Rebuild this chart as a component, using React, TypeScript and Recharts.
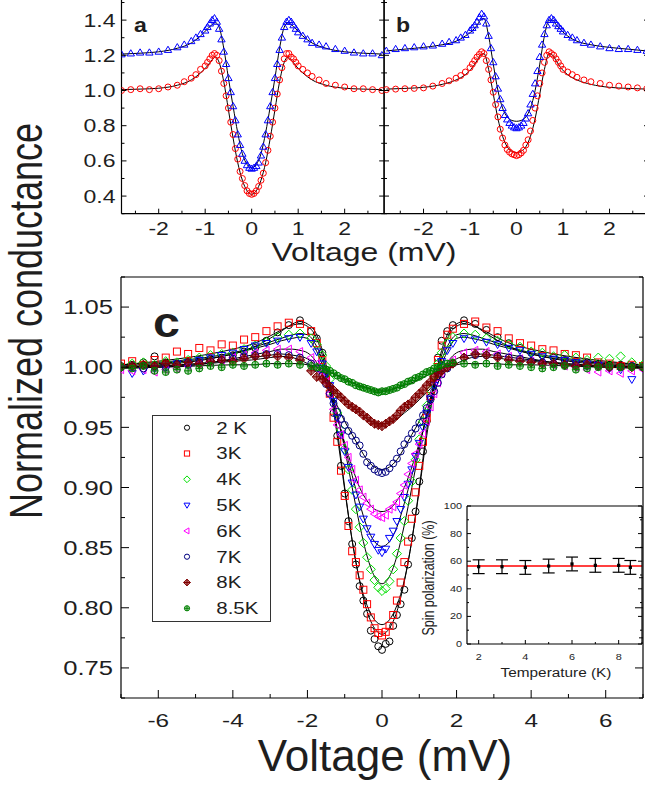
import React from "react";
import {
  ComposedChart,
  Scatter,
  Line,
  XAxis,
  YAxis,
  ErrorBar,
  ReferenceLine,
  Legend,
} from "recharts";

const FONT = "'Liberation Sans', Arial, Helvetica, sans-serif";
const SX = 1.28; // the figure is stretched sideways, so is its text
const INK = "#1e1e1e";

// ─── Panels a and b: dI/dV at two contacts ─────────────────

const abVolts = [
  -2.8, -2.6, -2.4, -2.2, -2.0, -1.8, -1.6, -1.45, -1.3, -1.2, -1.1, -1.0,
  -0.95, -0.9, -0.85, -0.8, -0.75, -0.7, -0.65, -0.6, -0.55, -0.5, -0.45, -0.4,
  -0.35, -0.3, -0.25, -0.2, -0.15, -0.1, -0.05, 0, 0.05, 0.1, 0.15, 0.2, 0.25,
  0.3, 0.35, 0.4, 0.45, 0.5, 0.55, 0.6, 0.65, 0.7, 0.75, 0.8, 0.85, 0.9, 0.95,
  1.0, 1.1, 1.2, 1.3, 1.45, 1.6, 1.8, 2.0, 2.2, 2.4, 2.6, 2.8,
];

const aRed = [
  1.0, 1.005, 1.01, 1.005, 1.01, 1.02, 1.03, 1.05, 1.07, 1.09, 1.12, 1.14,
  1.16, 1.18, 1.2, 1.21, 1.2, 1.17, 1.11, 1.04, 0.97, 0.9, 0.82, 0.75, 0.67,
  0.61, 0.54, 0.5, 0.46, 0.43, 0.415, 0.41, 0.415, 0.43, 0.455, 0.49, 0.53,
  0.59, 0.66, 0.74, 0.82, 0.9, 0.98, 1.06, 1.13, 1.18, 1.21, 1.21, 1.19, 1.18,
  1.16, 1.14, 1.12, 1.1, 1.08, 1.06, 1.04, 1.03, 1.02, 1.01, 1.01, 1.005, 1.0,
];
const aBlue = [
  1.205, 1.21, 1.215, 1.215, 1.22, 1.23, 1.245, 1.26, 1.28, 1.3, 1.32, 1.34,
  1.36, 1.38, 1.4, 1.41, 1.39, 1.35, 1.29, 1.22, 1.15, 1.07, 0.99, 0.91, 0.83,
  0.75, 0.69, 0.64, 0.6, 0.575, 0.56, 0.555, 0.56, 0.57, 0.59, 0.63, 0.68,
  0.75, 0.83, 0.91, 0.99, 1.07, 1.15, 1.23, 1.3, 1.36, 1.39, 1.4, 1.39, 1.37,
  1.35, 1.33, 1.31, 1.29, 1.27, 1.26, 1.25, 1.235, 1.225, 1.215, 1.21, 1.21, 1.2,
];
const bRed = [
  1.005, 1.008, 1.01, 1.012, 1.015, 1.025, 1.04, 1.055, 1.07, 1.085, 1.105,
  1.13, 1.15, 1.17, 1.19, 1.205, 1.22, 1.21, 1.17, 1.12, 1.06, 0.99, 0.92,
  0.85, 0.78, 0.73, 0.69, 0.665, 0.65, 0.64, 0.635, 0.63, 0.635, 0.645, 0.66,
  0.69, 0.72, 0.77, 0.83, 0.9, 0.97, 1.04, 1.1, 1.16, 1.2, 1.22, 1.21, 1.2,
  1.18, 1.16, 1.14, 1.12, 1.105, 1.09, 1.075, 1.06, 1.05, 1.04, 1.03, 1.025,
  1.02, 1.015, 1.01,
];
const bBlue = [
  1.225, 1.235, 1.24, 1.245, 1.25, 1.255, 1.265, 1.275, 1.285, 1.3, 1.315,
  1.34, 1.355, 1.37, 1.39, 1.415, 1.435, 1.42, 1.38, 1.31, 1.24, 1.16, 1.08,
  1.01, 0.95, 0.9, 0.86, 0.835, 0.815, 0.8, 0.79, 0.785, 0.79, 0.8, 0.815,
  0.84, 0.87, 0.92, 0.98, 1.04, 1.11, 1.19, 1.26, 1.32, 1.37, 1.4, 1.41, 1.4,
  1.38, 1.365, 1.35, 1.335, 1.315, 1.3, 1.285, 1.27, 1.26, 1.25, 1.24, 1.235,
  1.235, 1.23, 1.225,
];

const abFitVolts = [
  -2.8, -2.4, -2.0, -1.6, -1.3, -1.1, -0.95, -0.85, -0.78, -0.7, -0.6, -0.5,
  -0.4, -0.3, -0.2, -0.1, 0, 0.1, 0.2, 0.3, 0.4, 0.5, 0.6, 0.7, 0.78, 0.85,
  0.95, 1.1, 1.3, 1.6, 2.0, 2.4, 2.8,
];
const aRedFit = [
  1.005, 1.008, 1.013, 1.03, 1.06, 1.1, 1.14, 1.175, 1.19, 1.16, 1.05, 0.89,
  0.73, 0.59, 0.49, 0.43, 0.41, 0.43, 0.49, 0.59, 0.73, 0.89, 1.05, 1.16, 1.19,
  1.175, 1.14, 1.1, 1.06, 1.03, 1.013, 1.008, 1.005,
];
const aBlueFit = [
  1.207, 1.212, 1.22, 1.24, 1.27, 1.31, 1.35, 1.375, 1.385, 1.36, 1.24, 1.07,
  0.91, 0.76, 0.64, 0.58, 0.56, 0.58, 0.64, 0.76, 0.91, 1.07, 1.24, 1.36, 1.385,
  1.375, 1.35, 1.31, 1.27, 1.24, 1.22, 1.212, 1.207,
];
const bRedFit = [
  1.008, 1.012, 1.018, 1.035, 1.06, 1.09, 1.13, 1.17, 1.2, 1.21, 1.12, 0.98,
  0.84, 0.74, 0.68, 0.655, 0.647, 0.655, 0.68, 0.74, 0.84, 0.98, 1.12, 1.21,
  1.2, 1.17, 1.13, 1.09, 1.06, 1.035, 1.018, 1.012, 1.008,
];
const bBlueFit = [
  1.225, 1.235, 1.245, 1.26, 1.28, 1.31, 1.34, 1.37, 1.4, 1.41, 1.31, 1.15, 1.0,
  0.9, 0.85, 0.83, 0.825, 0.83, 0.85, 0.9, 1.0, 1.15, 1.31, 1.4, 1.4, 1.375,
  1.345, 1.31, 1.28, 1.26, 1.245, 1.235, 1.225,
];

// ─── Panel c: temperature series ───────────────────────────

const cVolts = [
  -7, -6.7, -6.4, -6.1, -5.8, -5.5, -5.2, -4.9, -4.6, -4.3, -4.0, -3.7, -3.4,
  -3.1, -2.8, -2.5, -2.2, -1.9, -1.75, -1.6, -1.5, -1.4, -1.3, -1.2, -1.1,
  -1.0, -0.9, -0.8, -0.7, -0.6, -0.5, -0.4, -0.3, -0.2, -0.1, 0, 0.1, 0.2, 0.3,
  0.4, 0.5, 0.6, 0.7, 0.8, 0.9, 1.0, 1.1, 1.2, 1.3, 1.4, 1.5, 1.6, 1.75, 1.9,
  2.2, 2.5, 2.8, 3.1, 3.4, 3.7, 4.0, 4.3, 4.6, 4.9, 5.2, 5.5, 5.8, 6.1, 6.4,
  6.7, 7.0,
];
const g2K = [
  1.001, 1.002, 1.004, 1.009, 1.004, 1.003, 1.005, 1.006, 1.007, 1.008, 1.01,
  1.013, 1.016, 1.022, 1.029, 1.035, 1.039, 1.03,
  1.024, 1.012, 0.998, 0.984, 0.962, 0.943, 0.918, 0.895, 0.872, 0.853, 0.836,
  0.818, 0.806, 0.795, 0.781, 0.774, 0.768, 0.765, 0.77, 0.772, 0.785, 0.794,
  0.803, 0.815, 0.836, 0.858, 0.88, 0.905, 0.93, 0.955, 0.975, 0.992, 1.008,
  1.022, 1.03,
  1.035, 1.039, 1.036, 1.031, 1.025, 1.02, 1.016, 1.012, 1.01, 1.008, 1.006,
  1.005, 1.004, 1.003, 1.002, 1.002, 1.001, 1.001,
];
const g3K = [
  1.003, 1.005, 1.002, 1.006, 1.008, 1.013, 1.011, 1.016, 1.014, 1.019, 1.018,
  1.023, 1.025, 1.03, 1.034, 1.037, 1.036, 1.03,
  1.02, 1.006, 0.993, 0.978, 0.958, 0.938, 0.914, 0.893, 0.868, 0.847, 0.838,
  0.827, 0.815, 0.803, 0.792, 0.783, 0.779, 0.777, 0.78, 0.785, 0.794, 0.806,
  0.821, 0.838, 0.855, 0.874, 0.896, 0.918, 0.938, 0.958, 0.976, 0.992, 1.006,
  1.018, 1.027,
  1.032, 1.036, 1.038, 1.033, 1.03, 1.024, 1.02, 1.018, 1.015, 1.014, 1.011,
  1.01, 1.008, 1.004, 1.003, 1.001, 1.002, 1.001,
];
const g4K = [
  1.0, 1.003, 1.004, 1.002, 1.005, 1.004, 1.006, 1.008, 1.01, 1.011, 1.012,
  1.015, 1.018, 1.021, 1.025, 1.027, 1.028, 1.024,
  1.019, 1.01, 1.001, 0.99, 0.977, 0.962, 0.948, 0.932, 0.915, 0.898, 0.882,
  0.867, 0.854, 0.842, 0.832, 0.823, 0.817, 0.814, 0.816, 0.822, 0.832, 0.845,
  0.858, 0.872, 0.889, 0.905, 0.923, 0.94, 0.955, 0.968, 0.981, 0.993, 1.003,
  1.012, 1.02,
  1.025, 1.028, 1.027, 1.024, 1.022, 1.019, 1.017, 1.013, 1.012, 1.009, 1.01,
  1.008, 1.006, 1.008, 1.007, 1.009, 1.004, 1.002,
];
const g5K = [
  0.999, 0.995, 0.997, 0.999, 1.001, 1.003, 1.004, 1.006, 1.008, 1.01, 1.012,
  1.015, 1.018, 1.02, 1.022, 1.024, 1.025, 1.02,
  1.013, 1.003, 0.995, 0.985, 0.972, 0.958, 0.944, 0.93, 0.917, 0.904, 0.894,
  0.884, 0.874, 0.866, 0.859, 0.853, 0.848, 0.846, 0.849, 0.858, 0.864, 0.872,
  0.882, 0.892, 0.903, 0.915, 0.926, 0.937, 0.95, 0.962, 0.974, 0.985, 0.996,
  1.005, 1.014,
  1.02, 1.024, 1.023, 1.021, 1.019, 1.016, 1.014, 1.011, 1.009, 1.007, 1.006,
  1.004, 1.003, 1.002, 0.999, 0.998, 0.99, 0.999,
];
const g6K = [
  0.998, 0.997, 0.998, 0.996, 0.998, 0.999, 1.001, 1.003, 1.004, 1.006, 1.008,
  1.01, 1.012, 1.014, 1.015, 1.015, 1.013, 1.008,
  1.003, 0.996, 0.988, 0.978, 0.965, 0.952, 0.944, 0.935, 0.925, 0.915, 0.906,
  0.898, 0.892, 0.887, 0.882, 0.878, 0.876, 0.875, 0.877, 0.882, 0.884, 0.888,
  0.895, 0.902, 0.911, 0.92, 0.928, 0.936, 0.945, 0.955, 0.967, 0.978, 0.987,
  0.995, 1.001,
  1.006, 1.012, 1.014, 1.013, 1.011, 1.009, 1.007, 1.005, 1.003, 1.002, 1.001,
  1.0, 0.998, 0.996, 0.997, 0.995, 0.997, 0.998,
];
const g7K = [
  1.0, 1.001, 0.999, 1.001, 1.0, 1.002, 1.002, 1.004, 1.005, 1.006, 1.007,
  1.009, 1.01, 1.011, 1.011, 1.01, 1.008, 1.003,
  0.999, 0.993, 0.986, 0.978, 0.97, 0.963, 0.957, 0.952, 0.947, 0.943, 0.939,
  0.935, 0.928, 0.921, 0.918, 0.915, 0.913, 0.912, 0.913, 0.916, 0.92, 0.924,
  0.93, 0.936, 0.94, 0.945, 0.949, 0.954, 0.96, 0.966, 0.973, 0.98, 0.987,
  0.994, 0.999,
  1.003, 1.008, 1.01, 1.01, 1.009, 1.008, 1.007, 1.005, 1.004, 1.003, 1.002,
  1.002, 1.001, 1.001, 1.0, 1.0, 1.001, 1.0,
];
const g8K = [
  1.0, 1.001, 1.002, 1.001, 1.003, 1.002, 1.004, 1.003, 1.005, 1.006, 1.005,
  1.007, 1.009, 1.01, 1.009, 1.008, 1.006, 0.997,
  0.992, 0.99, 0.987, 0.984, 0.981, 0.978, 0.975, 0.972, 0.969, 0.967, 0.965,
  0.963, 0.96, 0.958, 0.955, 0.953, 0.952, 0.951, 0.953, 0.955, 0.957, 0.96,
  0.964, 0.967, 0.969, 0.971, 0.975, 0.978, 0.981, 0.985, 0.988, 0.992, 0.995,
  0.997, 1.0,
  1.003, 1.008, 1.011, 1.01, 1.008, 1.006, 1.005, 1.004, 1.003, 1.003, 1.002,
  1.001, 1.002, 1.001, 1.0, 1.001, 1.0, 1.0,
];
const g85K = [
  1.0, 0.999, 1.001, 0.997, 0.996, 0.998, 0.997, 0.999, 1.001, 1.0, 1.002,
  1.001, 1.002, 1.003, 1.002, 1.003, 1.002, 1.001,
  1.0, 0.999, 0.998, 0.997, 0.995, 0.993, 0.991, 0.99, 0.988, 0.987, 0.985,
  0.984, 0.983, 0.982, 0.981, 0.98, 0.979, 0.98, 0.98, 0.981, 0.982, 0.983,
  0.985, 0.986, 0.988, 0.989, 0.991, 0.992, 0.994, 0.996, 0.997, 0.999, 1.0,
  1.002, 1.003,
  1.004, 1.003, 1.002, 1.003, 1.001, 1.002, 1.001, 1.0, 0.999, 1.0, 1.001,
  0.998, 0.999, 1.0, 1.001, 1.0, 1.0, 1.0,
];

const cFitVolts = [
  -7, -6, -5, -4, -3.5, -3, -2.7, -2.4, -2.2, -2.0, -1.8, -1.6, -1.4, -1.2,
  -1.0, -0.8, -0.6, -0.4, -0.2, 0, 0.2, 0.4, 0.6, 0.8, 1.0, 1.2, 1.4, 1.6, 1.8,
  2.0, 2.2, 2.4, 2.7, 3, 3.5, 4, 5, 6, 7,
];
const fit2K = [
  1.001, 1.003, 1.006, 1.011, 1.016, 1.024, 1.03, 1.036, 1.038, 1.036, 1.03,
  1.014, 0.987, 0.948, 0.9, 0.856, 0.822, 0.797, 0.783, 0.778, 0.783, 0.797,
  0.822, 0.856, 0.9, 0.948, 0.987, 1.014, 1.03, 1.036, 1.038, 1.036, 1.03,
  1.024, 1.016, 1.011, 1.006, 1.003, 1.001,
];
const fit3K = [
  1.002, 1.005, 1.009, 1.015, 1.019, 1.026, 1.031, 1.035, 1.036, 1.034, 1.027,
  1.01, 0.982, 0.943, 0.898, 0.856, 0.823, 0.802, 0.79, 0.786, 0.79, 0.802,
  0.823, 0.856, 0.898, 0.943, 0.982, 1.01, 1.027, 1.034, 1.036, 1.035, 1.031,
  1.026, 1.019, 1.015, 1.009, 1.005, 1.002,
];
const fit4K = [
  1.002, 1.004, 1.007, 1.012, 1.016, 1.021, 1.024, 1.027, 1.028, 1.027, 1.02,
  1.006, 0.986, 0.961, 0.932, 0.9, 0.869, 0.843, 0.826, 0.82, 0.826, 0.843,
  0.869, 0.9, 0.932, 0.961, 0.986, 1.006, 1.02, 1.027, 1.028, 1.027, 1.024,
  1.021, 1.016, 1.012, 1.007, 1.004, 1.002,
];
const fit5K = [
  1.0, 1.002, 1.005, 1.011, 1.015, 1.019, 1.022, 1.024, 1.025, 1.024, 1.016,
  1.002, 0.983, 0.96, 0.935, 0.91, 0.887, 0.867, 0.855, 0.851, 0.855, 0.867,
  0.887, 0.91, 0.935, 0.96, 0.983, 1.002, 1.016, 1.024, 1.025, 1.024, 1.022,
  1.019, 1.015, 1.011, 1.005, 1.002, 1.0,
];
const fit6K = [
  0.999, 1.0, 1.002, 1.007, 1.01, 1.013, 1.015, 1.015, 1.014, 1.012, 1.006,
  0.995, 0.978, 0.958, 0.937, 0.917, 0.9, 0.889, 0.882, 0.88, 0.882, 0.889,
  0.9, 0.917, 0.937, 0.958, 0.978, 0.995, 1.006, 1.012, 1.014, 1.015, 1.015,
  1.013, 1.01, 1.007, 1.002, 1.0, 0.999,
];
const fit7K = [
  1.0, 1.001, 1.003, 1.006, 1.008, 1.01, 1.011, 1.01, 1.009, 1.007, 1.002,
  0.993, 0.981, 0.968, 0.955, 0.944, 0.933, 0.923, 0.917, 0.915, 0.917, 0.923,
  0.933, 0.944, 0.955, 0.968, 0.981, 0.993, 1.002, 1.007, 1.009, 1.01, 1.011,
  1.01, 1.008, 1.006, 1.003, 1.001, 1.0,
];
const fit8K = [
  1.0, 1.001, 1.002, 1.005, 1.006, 1.008, 1.009, 1.008, 1.006, 1.003, 0.999,
  0.993, 0.986, 0.979, 0.973, 0.967, 0.962, 0.957, 0.954, 0.953, 0.954, 0.957,
  0.962, 0.967, 0.973, 0.979, 0.986, 0.993, 0.999, 1.003, 1.006, 1.008, 1.009,
  1.008, 1.006, 1.005, 1.002, 1.001, 1.0,
];
const fit85K = [
  1.0, 1.0, 1.001, 1.002, 1.002, 1.003, 1.003, 1.003, 1.003, 1.002, 1.001,
  0.999, 0.996, 0.993, 0.99, 0.987, 0.985, 0.983, 0.981, 0.981, 0.981, 0.983,
  0.985, 0.987, 0.99, 0.993, 0.996, 0.999, 1.001, 1.002, 1.003, 1.003, 1.003,
  1.003, 1.002, 1.002, 1.001, 1.0, 1.0,
];

const tempLabels = ["2 K", "3K", "4K", "5K", "6K", "7K", "8K", "8.5K"];
const tempColors = [
  "#000000", "#ff0000", "#00e000", "#0000ff", "#ff00ff", "#000080", "#800000", "#008000",
];
const tempMarkers = [
  "circle", "square", "diamond", "triDown", "triLeft", "circle", "crossDiamond", "crossCircle",
];
const tempData = [g2K, g3K, g4K, g5K, g6K, g7K, g8K, g85K];
const tempFits = [fit2K, fit3K, fit4K, fit5K, fit6K, fit7K, fit8K, fit85K];

// ─── Inset: spin polarization vs temperature ──────────────

const insetTemps = [2, 3, 4, 5, 6, 7, 8, 8.5];
const insetPol = [56, 56, 55.5, 56.5, 58, 57, 57, 55.5];
const insetErr = [5, 5, 5, 5, 5, 5, 5, 5];
const insetPolFit = 56.5;

// ─── Tick lists ────────────────────────────────────────────

const abXTicks = [-2.5, -2, -1.5, -1, -0.5, 0, 0.5, 1, 1.5, 2, 2.5];
const abYTicks = [0.3, 0.4, 0.5, 0.6, 0.7, 0.8, 0.9, 1.0, 1.1, 1.2, 1.3, 1.4, 1.5];
const cXTicks = [-7, -6, -5, -4, -3, -2, -1, 0, 1, 2, 3, 4, 5, 6, 7];
const cYTicks = [
  0.725, 0.75, 0.775, 0.8, 0.825, 0.85, 0.875, 0.9, 0.925, 0.95, 0.975, 1.0,
  1.025, 1.05, 1.075,
];
const insetXTicks = [2, 3, 4, 5, 6, 7, 8, 9];
const insetYTicks = [0, 10, 20, 30, 40, 50, 60, 70, 80, 90, 100];

const toPts = (xs: number[], ys: number[]) => xs.map((x, i) => ({ x, y: ys[i] }));

// ─── Markers ───────────────────────────────────────────────

function Marker({ kind, cx, cy, s, color }: { kind: string; cx: number; cy: number; s: number; color: string }) {
  const sw = 1;
  switch (kind) {
    case "square":
      return <rect x={cx - s} y={cy - s} width={2 * s} height={2 * s} fill="none" stroke={color} strokeWidth={sw} />;
    case "diamond": {
      const d = s * 1.3;
      return (
        <polygon
          points={`${cx},${cy - d} ${cx + d},${cy} ${cx},${cy + d} ${cx - d},${cy}`}
          fill="none"
          stroke={color}
          strokeWidth={sw}
        />
      );
    }
    case "triUp":
      return (
        <polygon
          points={`${cx - s * 1.15},${cy + s * 0.75} ${cx + s * 1.15},${cy + s * 0.75} ${cx},${cy - s * 1.2}`}
          fill="none"
          stroke={color}
          strokeWidth={sw}
        />
      );
    case "triDown":
      return (
        <polygon
          points={`${cx - s * 1.15},${cy - s * 0.75} ${cx + s * 1.15},${cy - s * 0.75} ${cx},${cy + s * 1.2}`}
          fill="none"
          stroke={color}
          strokeWidth={sw}
        />
      );
    case "triLeft":
      return (
        <polygon
          points={`${cx - s * 1.2},${cy} ${cx + s * 0.75},${cy - s * 1.15} ${cx + s * 0.75},${cy + s * 1.15}`}
          fill="none"
          stroke={color}
          strokeWidth={sw}
        />
      );
    case "crossDiamond": {
      const d = s * 1.3;
      return (
        <g stroke={color} strokeWidth={sw}>
          <polygon
            points={`${cx},${cy - d} ${cx + d},${cy} ${cx},${cy + d} ${cx - d},${cy}`}
            fill={color}
            fillOpacity={0.55}
          />
          <line x1={cx - d} y1={cy} x2={cx + d} y2={cy} />
          <line x1={cx} y1={cy - d} x2={cx} y2={cy + d} />
        </g>
      );
    }
    case "crossCircle":
      return (
        <g stroke={color} strokeWidth={sw}>
          <circle cx={cx} cy={cy} r={s} fill={color} fillOpacity={0.3} />
          <line x1={cx - s} y1={cy} x2={cx + s} y2={cy} />
          <line x1={cx} y1={cy - s} x2={cx} y2={cy + s} />
        </g>
      );
    case "dot":
      return <rect x={cx - 1.6} y={cy - 1.6} width={3.2} height={3.2} fill={color} />;
    default:
      return <circle cx={cx} cy={cy} r={s} fill="none" stroke={color} strokeWidth={sw} />;
  }
}

// ─── Inward ticks, longer on the major values ─────────────

type Side = "bottom" | "top" | "left" | "right";
interface TickOpts {
  side: Side;
  step: number;
  len: number;
  minor: number;
  font?: number;
  off?: number;
  digits?: number;
}

function tickRenderer(o: TickOpts) {
  return (props: any) => {
    const { x, y, payload } = props;
    const v = payload.value as number;
    const q = v / o.step;
    const major = Math.abs(q - Math.round(q)) < 1e-6;
    const len = major ? o.len : o.minor;
    const txt = v.toFixed(o.digits ?? 0);
    const showText = major && !!o.font;
    let line = null;
    let label = null;
    if (o.side === "bottom") {
      line = <line x1={x} y1={y} x2={x} y2={y - len} />;
      if (showText)
        label = (
          <text transform={`translate(${x},${y + (o.off ?? 0)}) scale(${SX},1)`} textAnchor="middle" fontSize={o.font}>
            {txt}
          </text>
        );
    } else if (o.side === "top") {
      line = <line x1={x} y1={y} x2={x} y2={y + len} />;
    } else if (o.side === "left") {
      line = <line x1={x} y1={y} x2={x + len} y2={y} />;
      if (showText)
        label = (
          <text
            transform={`translate(${x - (o.off ?? 0)},${y + (o.font ?? 0) * 0.36}) scale(${SX},1)`}
            textAnchor="end"
            fontSize={o.font}
          >
            {txt}
          </text>
        );
    } else {
      line = <line x1={x} y1={y} x2={x - len} y2={y} />;
    }
    return (
      <g>
        <g stroke="#000" strokeWidth={1}>{line}</g>
        {label && (
          <g fill={INK} fontFamily={FONT}>
            {label}
          </g>
        )}
      </g>
    );
  };
}

const axisLine = { stroke: "#000", strokeWidth: 1.2 };
const noMargin = { top: 0, right: 0, bottom: 0, left: 0 };

// ─── Panels a / b ──────────────────────────────────────────

function VoltagePanel({
  left,
  width,
  leftW,
  xDomain,
  yLabels,
  red,
  blue,
  redFit,
  blueFit,
}: {
  left: number;
  width: number;
  leftW: number;
  xDomain: [number, number];
  yLabels: boolean;
  red: number[];
  blue: number[];
  redFit: number[];
  blueFit: number[];
}) {
  return (
    <div style={{ position: "absolute", left, top: -20 }}>
      <ComposedChart width={width} height={263.7} margin={noMargin}>
        <XAxis
          dataKey="x"
          type="number"
          domain={xDomain}
          ticks={abXTicks}
          interval={0}
          allowDataOverflow
          height={30}
          tickLine={false}
          tickSize={0}
          tickMargin={0}
          axisLine={axisLine}
          tick={tickRenderer({ side: "bottom", step: 1, len: 5, minor: 3, font: 18, off: 21.5 })}
        />
        <XAxis
          xAxisId="top"
          orientation="top"
          type="number"
          domain={xDomain}
          ticks={abXTicks}
          interval={0}
          allowDataOverflow
          height={19}
          tickLine={false}
          tickSize={0}
          tickMargin={0}
          axisLine={axisLine}
          tick={tickRenderer({ side: "top", step: 1, len: 5, minor: 3 })}
        />
        <YAxis
          dataKey="y"
          type="number"
          domain={[0.3, 1.52]}
          ticks={abYTicks}
          interval={0}
          allowDataOverflow
          width={leftW}
          tickLine={false}
          tickSize={0}
          tickMargin={0}
          axisLine={axisLine}
          tick={tickRenderer({ side: "left", step: 0.2, len: 5, minor: 3, font: yLabels ? 18 : undefined, off: 6, digits: 1 })}
        />
        <YAxis
          yAxisId="right"
          orientation="right"
          type="number"
          domain={[0.3, 1.52]}
          ticks={abYTicks}
          interval={0}
          allowDataOverflow
          width={5}
          tickLine={false}
          tickSize={0}
          tickMargin={0}
          axisLine={axisLine}
          tick={tickRenderer({ side: "right", step: 0.2, len: 5, minor: 3 })}
        />
        <Scatter
          data={toPts(abVolts, red)}
          isAnimationActive={false}
          shape={(p: any) => <Marker kind="circle" cx={p.cx} cy={p.cy} s={3} color="#ff0000" />}
        />
        <Scatter
          data={toPts(abVolts, blue)}
          isAnimationActive={false}
          shape={(p: any) => <Marker kind="triUp" cx={p.cx} cy={p.cy} s={3.2} color="#0000ff" />}
        />
        <Line
          data={toPts(abFitVolts, redFit)}
          dataKey="y"
          type="monotone"
          stroke="#000"
          strokeWidth={1}
          dot={false}
          isAnimationActive={false}
        />
        <Line
          data={toPts(abFitVolts, blueFit)}
          dataKey="y"
          type="monotone"
          stroke="#000"
          strokeWidth={1}
          dot={false}
          isAnimationActive={false}
        />
      </ComposedChart>
    </div>
  );
}

// ─── Legend box for panel c ────────────────────────────────

function TempLegend() {
  return (
    <svg width={119} height={207} style={{ display: "block" }}>
      <rect x={0.5} y={0.5} width={118} height={206} fill="#fff" stroke="#333" strokeWidth={1} />
      {tempLabels.map((name, i) => {
        const cy = 12.7 + 25.8 * i;
        return (
          <g key={name}>
            <Marker kind={tempMarkers[i]} cx={35} cy={cy} s={2.6} color={tempColors[i]} />
            <text
              transform={`translate(64.3,${cy + 5.8}) scale(${SX},1)`}
              fontSize={16}
              fontFamily={FONT}
              fill={INK}
            >
              {name}
            </text>
          </g>
        );
      })}
    </svg>
  );
}

function TemperaturePanel() {
  return (
    <div style={{ position: "absolute", left: 0, top: 267 }}>
      <ComposedChart width={645} height={471} margin={noMargin}>
        <XAxis
          dataKey="x"
          type="number"
          domain={[-7, 7]}
          ticks={cXTicks}
          interval={0}
          allowDataOverflow
          height={40}
          tickLine={false}
          tickSize={0}
          tickMargin={0}
          axisLine={axisLine}
          tick={tickRenderer({ side: "bottom", step: 2, len: 8, minor: 4, font: 19, off: 29 })}
        />
        <XAxis
          xAxisId="top"
          orientation="top"
          type="number"
          domain={[-7, 7]}
          ticks={cXTicks}
          interval={0}
          allowDataOverflow
          height={10}
          tickLine={false}
          tickSize={0}
          tickMargin={0}
          axisLine={axisLine}
          tick={tickRenderer({ side: "top", step: 2, len: 8, minor: 4 })}
        />
        <YAxis
          dataKey="y"
          type="number"
          domain={[0.725, 1.075]}
          ticks={cYTicks}
          interval={0}
          allowDataOverflow
          width={121}
          tickLine={false}
          tickSize={0}
          tickMargin={0}
          axisLine={axisLine}
          tick={tickRenderer({ side: "left", step: 0.05, len: 8, minor: 4, font: 20, off: 8, digits: 2 })}
        />
        <YAxis
          yAxisId="right"
          orientation="right"
          type="number"
          domain={[0.725, 1.075]}
          ticks={cYTicks}
          interval={0}
          allowDataOverflow
          width={2}
          tickLine={false}
          tickSize={0}
          tickMargin={0}
          axisLine={axisLine}
          tick={tickRenderer({ side: "right", step: 0.05, len: 8, minor: 4 })}
        />
        {tempData.map((vals, i) => (
          <Scatter
            key={tempLabels[i]}
            name={tempLabels[i]}
            data={toPts(cVolts, vals)}
            isAnimationActive={false}
            shape={(p: any) => <Marker kind={tempMarkers[i]} cx={p.cx} cy={p.cy} s={3.5} color={tempColors[i]} />}
          />
        ))}
        {tempFits.map((vals, i) => (
          <Line
            key={"fit" + tempLabels[i]}
            data={toPts(cFitVolts, vals)}
            dataKey="y"
            type="monotone"
            stroke="#000"
            strokeWidth={1}
            dot={false}
            legendType="none"
            isAnimationActive={false}
          />
        ))}
        <Legend
          layout="horizontal"
          verticalAlign="middle"
          align="center"
          content={() => <TempLegend />}
          wrapperStyle={{ position: "absolute", left: 151.7, top: 148, width: 119, height: 207 }}
        />
      </ComposedChart>
    </div>
  );
}

function PolarizationInset() {
  const data = insetTemps.map((t, i) => ({ x: t, y: insetPol[i], err: insetErr[i] }));
  return (
    <div style={{ position: "absolute", left: 422, top: 496 }}>
      <ComposedChart width={223} height={178} margin={noMargin}>
        <XAxis
          dataKey="x"
          type="number"
          domain={[1.5, 9]}
          ticks={insetXTicks}
          interval={0}
          allowDataOverflow
          height={30}
          tickLine={false}
          tickSize={0}
          tickMargin={0}
          axisLine={axisLine}
          tick={tickRenderer({ side: "bottom", step: 2, len: 4, minor: 2, font: 8.5, off: 16 })}
        />
        <XAxis
          xAxisId="top"
          orientation="top"
          type="number"
          domain={[1.5, 9]}
          ticks={insetXTicks}
          interval={0}
          allowDataOverflow
          height={10}
          tickLine={false}
          tickSize={0}
          tickMargin={0}
          axisLine={axisLine}
          tick={tickRenderer({ side: "top", step: 2, len: 4, minor: 2 })}
        />
        <YAxis
          dataKey="y"
          type="number"
          domain={[0, 100]}
          ticks={insetYTicks}
          interval={0}
          allowDataOverflow
          width={45}
          tickLine={false}
          tickSize={0}
          tickMargin={0}
          axisLine={axisLine}
          tick={tickRenderer({ side: "left", step: 20, len: 4, minor: 2, font: 8.5, off: 5 })}
        />
        <YAxis
          yAxisId="right"
          orientation="right"
          type="number"
          domain={[0, 100]}
          ticks={insetYTicks}
          interval={0}
          allowDataOverflow
          width={3}
          tickLine={false}
          tickSize={0}
          tickMargin={0}
          axisLine={axisLine}
          tick={tickRenderer({ side: "right", step: 20, len: 4, minor: 2 })}
        />
        <ReferenceLine y={insetPolFit} stroke="#ff0000" strokeWidth={1.4} />
        <Scatter
          data={data}
          isAnimationActive={false}
          shape={(p: any) => <Marker kind="dot" cx={p.cx} cy={p.cy} s={2} color="#000" />}
        >
          <ErrorBar dataKey="err" direction="y" width={6} stroke="#000" strokeWidth={1.2} />
        </Scatter>
      </ComposedChart>
    </div>
  );
}

function Titles() {
  return (
    <svg
      width={645}
      height={785}
      style={{ position: "absolute", left: 0, top: 0, pointerEvents: "none" }}
      fontFamily={FONT}
      fill={INK}
    >
      <text transform={`translate(42,321) scale(${SX},1) rotate(-90)`} textAnchor="middle" fontSize={36}>
        Normalized conductance
      </text>
      <text transform={`translate(364,261) scale(${SX},1)`} textAnchor="middle" fontSize={25}>
        Voltage (mV)
      </text>
      <text x={385} y={771} textAnchor="middle" fontSize={44}>
        Voltage (mV)
      </text>
      <text transform="translate(134,32) scale(1.1,1)" fontSize={21} fontWeight="bold">
        a
      </text>
      <text transform="translate(396,31.5) scale(1.1,1)" fontSize={21} fontWeight="bold">
        b
      </text>
      <text transform="translate(153,337) scale(1.15,1)" fontSize={42} fontWeight="bold">
        c
      </text>
      <text transform={`translate(434,578) scale(${SX},1) rotate(-90)`} textAnchor="middle" fontSize={12.5}>
        Spin polarization (%)
      </text>
      <text transform={`translate(556,677) scale(${SX},1)`} textAnchor="middle" fontSize={12}>
        Temperature (K)
      </text>
    </svg>
  );
}

export default function App() {
  return (
    <div
      style={{
        position: "absolute",
        left: 0,
        top: 0,
        width: 645,
        height: 785,
        overflow: "hidden",
        background: "#fff",
        fontFamily: FONT,
      }}
    >
      <VoltagePanel
        left={0}
        width={389.2}
        leftW={121.5}
        xDomain={[-2.8, 2.85]}
        yLabels
        red={aRed}
        blue={aBlue}
        redFit={aRedFit}
        blueFit={aBlueFit}
      />
      <VoltagePanel
        left={380.2}
        width={274.05}
        leftW={4}
        xDomain={[-2.85, 2.85]}
        yLabels={false}
        red={bRed}
        blue={bBlue}
        redFit={bRedFit}
        blueFit={bBlueFit}
      />
      <TemperaturePanel />
      <PolarizationInset />
      <Titles />
    </div>
  );
}
